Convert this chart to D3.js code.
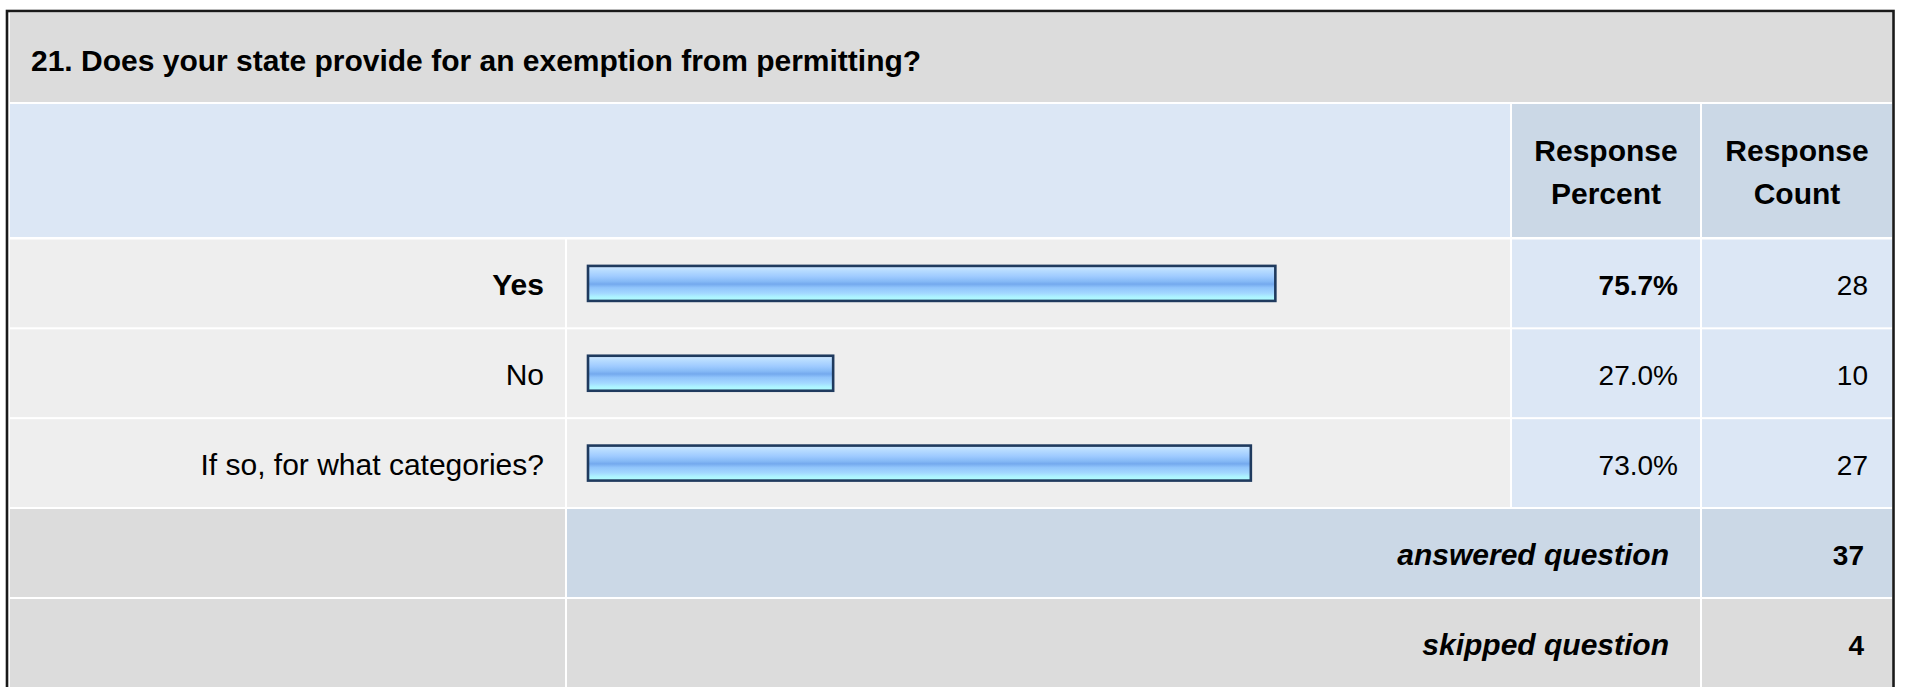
<!DOCTYPE html>
<html><head><meta charset="utf-8">
<script src="https://cdn.jsdelivr.net/npm/d3@7"></script>
<style>html,body{margin:0;padding:0;background:#fff;overflow:hidden}</style>
</head><body><svg id="chart" width="1907" height="687"></svg>
<script>
const title = "21. Does your state provide for an exemption from permitting?";
const categories = ["Yes", "No", "If so, for what categories?"];
const percents = [75.7, 27.0, 73.0];
const counts = [28, 10, 27];
const headerPercent = ["Response", "Percent"];
const headerCount = ["Response", "Count"];
const summaryLabels = ["answered question", "skipped question"];
const summaryValues = [37, 4];

const W = 1907, H = 687;
const FONT = "'Liberation Sans', Arial, Helvetica, sans-serif";
const FS = 30, FSV = 28;
const svg = d3.select("#chart");

// gradient
const defs = svg.append("defs");
const grad = defs.append("linearGradient").attr("id", "barGrad")
  .attr("x1", 0).attr("y1", 0).attr("x2", 0).attr("y2", 1);
[[0, "#d2e9ff"], [0.14, "#b6dbff"], [0.3, "#9fcbff"], [0.44, "#86baf6"], [0.52, "#74a9ee"],
 [0.62, "#90c4fb"], [0.78, "#a3d8ff"], [0.88, "#acf2ff"], [1, "#b2ffff"]]
  .forEach(([o, c]) => grad.append("stop").attr("offset", o).attr("stop-color", c));

// column edges
const colL = 10, colLabelR = 565, colBarL = 567, colPctL = 1512, colPctR = 1700, colCntL = 1702, colR = 1892;

// vertical layout
const titleY0 = 13, titleY1 = 102;
const headY0 = 104, headY1 = 237;
const yRows = d3.scaleBand().domain(categories).range([238.5, 508]).paddingInner(0.0225).paddingOuter(0.0112);
const ySum = d3.scaleBand().domain(summaryLabels).range([508, 688]).paddingInner(0.0225).paddingOuter(0.0112);

const x = d3.scaleLinear().domain([0, 100]).range([588, 1496]);

function rect(x0, y0, x1, y1, fill) {
  svg.append("rect").attr("x", x0).attr("y", y0).attr("width", x1 - x0).attr("height", y1 - y0).attr("fill", fill);
}
function text(str, tx, ty, anchor, weight, style, size) {
  return svg.append("text").attr("x", tx).attr("y", ty).attr("text-anchor", anchor || "start")
    .attr("font-family", FONT).attr("font-size", size || FS).attr("font-weight", weight || "normal")
    .attr("font-style", style || "normal").attr("fill", "#000").text(str);
}

// title
rect(colL, titleY0, colR, titleY1, "#dcdcdc");
text(title, 31, 71, "start", "bold");

// header row
rect(colL, headY0, colPctL - 2, headY1, "#dce7f5");
rect(colPctL, headY0, colPctR, headY1, "#cbd8e6");
rect(colCntL, headY0, colR, headY1, "#cbd8e6");
const pcx = (colPctL + colPctR) / 2, ccx = (colCntL + colR) / 2;
text(headerPercent[0], pcx, 161, "middle", "bold");
text(headerPercent[1], pcx, 204, "middle", "bold");
text(headerCount[0], ccx, 161, "middle", "bold");
text(headerCount[1], ccx, 204, "middle", "bold");

// data rows
const maxI = d3.maxIndex(percents);
categories.forEach((c, i) => {
  const y0 = yRows(c), y1 = y0 + yRows.bandwidth(), cy = (y0 + y1) / 2;
  rect(colL, y0, colLabelR, y1, "#eeeeee");
  rect(colBarL, y0, colPctL - 2, y1, "#eeeeee");
  rect(colPctL, y0, colPctR, y1, "#dce7f5");
  rect(colCntL, y0, colR, y1, "#dce7f5");
  const w = i === maxI ? "bold" : "normal";
  text(c, 544, cy + 12, "end", w);
  text(d3.format(".1f")(percents[i]) + "%", 1678, cy + 12, "end", w, "normal", FSV);
  text(String(counts[i]), 1868, cy + 12, "end", "normal", "normal", FSV);
  svg.append("rect").attr("x", x(0)).attr("y", cy - 17.5).attr("width", x(percents[i]) - x(0)).attr("height", 35)
    .attr("fill", "url(#barGrad)").attr("stroke", "#1f3a5e").attr("stroke-width", 2.6);
});

// summary rows
summaryLabels.forEach((s, i) => {
  const y0 = ySum(s), y1 = y0 + ySum.bandwidth(), cy = (y0 + y1) / 2;
  const fill = i === 0 ? "#cbd8e6" : "#dcdcdc";
  rect(colL, y0, colLabelR, y1, "#dcdcdc");
  rect(colBarL, y0, colPctR, y1, fill);
  rect(colCntL, y0, colR, y1, fill);
  text(s, 1669, cy + 12, "end", "bold", "italic");
  text(String(summaryValues[i]), 1864, cy + 12, "end", "bold", "normal", FSV);
});

// outer border
svg.append("rect").attr("x", 7).attr("y", 11).attr("width", 1886.5).attr("height", 700)
  .attr("fill", "none").attr("stroke", "#1a1a1a").attr("stroke-width", 2.6);
</script></body></html>
